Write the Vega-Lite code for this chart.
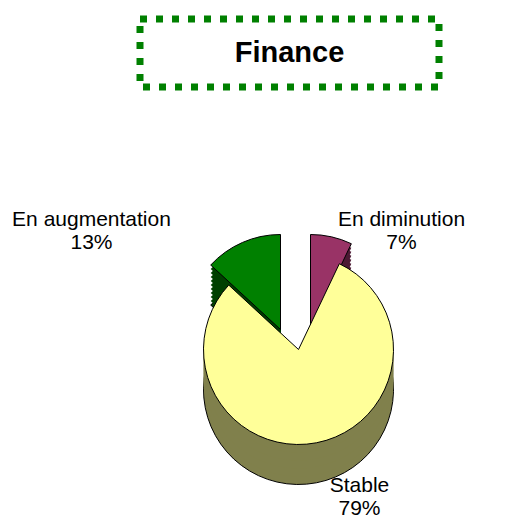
{
  "$schema": "https://vega.github.io/schema/vega-lite/v6.json",
  "padding": {"left": 12, "top": 15, "right": 0, "bottom": 0},
  "background": "white",
  "spacing": 98,
  "vconcat": [
    {
      "width": 299,
      "height": 68,
      "view": {"stroke": "#008000", "strokeWidth": 7, "strokeDash": [7, 9], "fill": null},
      "data": {"values": [{"title": "Finance"}]},
      "mark": {"type": "text", "font": "Liberation Sans", "fontSize": 29, "fontWeight": "bold", "color": "#000000", "align": "center", "baseline": "middle"},
      "encoding": {"text": {"field": "title", "type": "nominal"}}
    },
    {
      "width": 317,
      "height": 321,
      "view": {"stroke": null},
      "data": {
        "values": [
          {"cat": "En diminution", "value": 7, "label": "En diminution\n7%"},
          {"cat": "Stable", "value": 79, "label": "Stable\n79%"},
          {"cat": "En augmentation", "value": 13, "label": "En augmentation\n13%"}
        ]
      },
      "transform": [{"stack": "value", "groupby": [], "as": ["start", "end"]}],
      "layer": [
        {
          "encoding": {
            "theta": {"field": "start", "type": "quantitative", "scale": {"domain": [0, 99], "nice": false, "zero": true}},
            "theta2": {"field": "end"}
          },
          "layer": [
            {
              "transform": [{"filter": "datum.cat === 'En augmentation'"}],
              "layer": [
                {"mark": {"type": "arc", "radius": 95, "fill": "#004000", "stroke": "#000000", "strokeWidth": 1, "xOffset": -18, "yOffset": 20}},
                {"mark": {"type": "arc", "radius": 95, "fill": "#004000", "xOffset": -18, "yOffset": 16}},
                {"mark": {"type": "arc", "radius": 95, "fill": "#004000", "xOffset": -18, "yOffset": 12}},
                {"mark": {"type": "arc", "radius": 95, "fill": "#004000", "xOffset": -18, "yOffset": 8}},
                {"mark": {"type": "arc", "radius": 95, "fill": "#004000", "xOffset": -18, "yOffset": 4}},
                {"mark": {"type": "arc", "radius": 95, "fill": "#004000", "xOffset": -18, "yOffset": 0}},
                {"mark": {"type": "arc", "radius": 95, "fill": "#004000", "xOffset": -18, "yOffset": -4}},
                {"mark": {"type": "arc", "radius": 95, "fill": "#004000", "xOffset": -18, "yOffset": -8}},
                {"mark": {"type": "arc", "radius": 95, "fill": "#004000", "xOffset": -18, "yOffset": -12}},
                {"mark": {"type": "arc", "radius": 95, "fill": "#004000", "xOffset": -18, "yOffset": -16}},
                {"mark": {"type": "arc", "radius": 95, "fill": "#008000", "stroke": "#000000", "strokeWidth": 1, "xOffset": -18, "yOffset": -20}}
              ]
            },
            {
              "transform": [{"filter": "datum.cat === 'En diminution'"}],
              "layer": [
                {"mark": {"type": "arc", "radius": 95, "fill": "#4C1933", "stroke": "#000000", "strokeWidth": 1, "xOffset": 12, "yOffset": 20}},
                {"mark": {"type": "arc", "radius": 95, "fill": "#4C1933", "xOffset": 12, "yOffset": 16}},
                {"mark": {"type": "arc", "radius": 95, "fill": "#4C1933", "xOffset": 12, "yOffset": 12}},
                {"mark": {"type": "arc", "radius": 95, "fill": "#4C1933", "xOffset": 12, "yOffset": 8}},
                {"mark": {"type": "arc", "radius": 95, "fill": "#4C1933", "xOffset": 12, "yOffset": 4}},
                {"mark": {"type": "arc", "radius": 95, "fill": "#4C1933", "xOffset": 12, "yOffset": 0}},
                {"mark": {"type": "arc", "radius": 95, "fill": "#4C1933", "xOffset": 12, "yOffset": -4}},
                {"mark": {"type": "arc", "radius": 95, "fill": "#4C1933", "xOffset": 12, "yOffset": -8}},
                {"mark": {"type": "arc", "radius": 95, "fill": "#4C1933", "xOffset": 12, "yOffset": -12}},
                {"mark": {"type": "arc", "radius": 95, "fill": "#4C1933", "xOffset": 12, "yOffset": -16}},
                {"mark": {"type": "arc", "radius": 95, "fill": "#993366", "stroke": "#000000", "strokeWidth": 1, "xOffset": 12, "yOffset": -20}}
              ]
            },
            {
              "transform": [{"filter": "datum.cat === 'Stable'"}],
              "layer": [
                {"mark": {"type": "arc", "radius": 95, "fill": "#80804C", "stroke": "#000000", "strokeWidth": 1, "yOffset": 40}},
                {"mark": {"type": "arc", "radius": 95, "fill": "#80804C", "yOffset": 32}},
                {"mark": {"type": "arc", "radius": 95, "fill": "#80804C", "yOffset": 24}},
                {"mark": {"type": "arc", "radius": 95, "fill": "#80804C", "yOffset": 16}},
                {"mark": {"type": "arc", "radius": 95, "fill": "#80804C", "yOffset": 8}},
                {"mark": {"type": "arc", "radius": 95, "fill": "#FFFF99", "stroke": "#000000", "strokeWidth": 1, "yOffset": 0}}
              ]
            }
          ]
        },
        {
          "transform": [{"filter": "datum.cat === 'En augmentation'"}],
          "mark": {"type": "text", "font": "Liberation Sans", "fontSize": 21, "lineHeight": 23, "lineBreak": "\n", "align": "center", "baseline": "middle", "color": "#000000", "dx": -207, "dy": -130},
          "encoding": {"text": {"field": "label", "type": "nominal"}}
        },
        {
          "transform": [{"filter": "datum.cat === 'En diminution'"}],
          "mark": {"type": "text", "font": "Liberation Sans", "fontSize": 21, "lineHeight": 23, "lineBreak": "\n", "align": "center", "baseline": "middle", "color": "#000000", "dx": 103, "dy": -130},
          "encoding": {"text": {"field": "label", "type": "nominal"}}
        },
        {
          "transform": [{"filter": "datum.cat === 'Stable'"}],
          "mark": {"type": "text", "font": "Liberation Sans", "fontSize": 21, "lineHeight": 23, "lineBreak": "\n", "align": "center", "baseline": "middle", "color": "#000000", "dx": 61, "dy": 136},
          "encoding": {"text": {"field": "label", "type": "nominal"}}
        }
      ]
    }
  ]
}
